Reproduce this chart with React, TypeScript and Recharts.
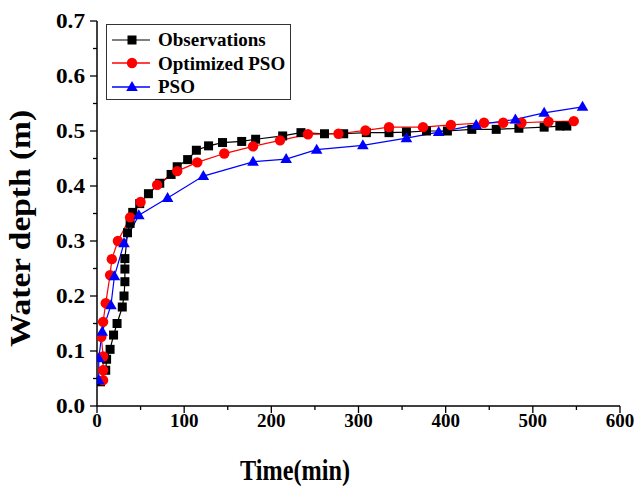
import React from 'react';
import { LineChart, Line, XAxis, YAxis, Legend } from 'recharts';

const FONT = '"Liberation Serif", "Times New Roman", serif';

// Observations
const obsTime = [4, 10, 11, 15, 19, 23, 29, 31, 32, 32, 32, 35, 38, 41, 49, 59, 72, 85, 92, 104, 114, 128, 144, 166, 182, 213, 234, 261, 283, 309, 335, 355, 378, 402, 430, 458, 484, 513, 531, 539];
const obsDepth = [0.044, 0.065, 0.085, 0.103, 0.129, 0.150, 0.180, 0.200, 0.226, 0.249, 0.268, 0.315, 0.332, 0.352, 0.368, 0.386, 0.405, 0.421, 0.435, 0.448, 0.465, 0.473, 0.479, 0.481, 0.485, 0.491, 0.497, 0.495, 0.495, 0.497, 0.497, 0.498, 0.500, 0.500, 0.503, 0.503, 0.505, 0.507, 0.509, 0.509];

// Optimized PSO
const optTime = [7, 7, 7, 5, 7, 10, 15, 17, 24, 38, 50, 69, 92, 115, 146, 179, 210, 242, 277, 308, 335, 374, 406, 444, 466, 487, 518, 547];
const optDepth = [0.047, 0.065, 0.090, 0.126, 0.153, 0.187, 0.238, 0.267, 0.300, 0.343, 0.371, 0.402, 0.427, 0.443, 0.459, 0.472, 0.483, 0.494, 0.495, 0.501, 0.507, 0.507, 0.511, 0.515, 0.515, 0.515, 0.517, 0.518];

// PSO
const psoTime = [2, 2, 6, 16, 20, 31, 48, 81, 122, 179, 217, 252, 305, 355, 392, 435, 480, 513, 557];
const psoDepth = [0.047, 0.087, 0.135, 0.183, 0.236, 0.296, 0.347, 0.378, 0.418, 0.444, 0.449, 0.466, 0.474, 0.487, 0.498, 0.511, 0.521, 0.533, 0.544];

const seriesNames = ['Observations', 'Optimized PSO', 'PSO'];
const seriesColors = ['#000000', '#ff0000', '#0000ff'];
const seriesShapes = ['square', 'circle', 'triangle'];

const xTicks = [0, 50, 100, 150, 200, 250, 300, 350, 400, 450, 500, 550, 600];
const yTicks = [0, 0.05, 0.1, 0.15, 0.2, 0.25, 0.3, 0.35, 0.4, 0.45, 0.5, 0.55, 0.6, 0.65, 0.7];

const xTitle = 'Time(min)';
const yTitle = 'Water depth (m)';

const toData = (t: number[], v: number[]) => t.map((x, i) => ({ t: x, v: v[i] }));
const obsData = toData(obsTime, obsDepth);
const optData = toData(optTime, optDepth);
const psoData = toData(psoTime, psoDepth);

const Marker = ({ shape, cx, cy, color }: { shape: string; cx: number; cy: number; color: string }) => {
  if (shape === 'square') {
    return <rect x={cx - 4.5} y={cy - 4.5} width={9} height={9} fill={color} />;
  }
  if (shape === 'circle') {
    return <circle cx={cx} cy={cy} r={5.2} fill={color} />;
  }
  return (
    <polygon
      points={`${cx},${cy - 6} ${cx - 5.8},${cy + 4} ${cx + 5.8},${cy + 4}`}
      fill={color}
    />
  );
};

const makeDot = (idx: number) => (props: any) => {
  const { cx, cy, index } = props;
  if (cx == null || cy == null) return <g key={`d${idx}-${index}`} />;
  return (
    <g key={`d${idx}-${index}`}>
      <Marker shape={seriesShapes[idx]} cx={cx} cy={cy} color={seriesColors[idx]} />
    </g>
  );
};

const XTick = (props: any) => {
  const { x, y, payload } = props;
  const major = payload.value % 100 === 0;
  return (
    <g>
      <line x1={x} x2={x} y1={y} y2={y + (major ? 7 : 4)} stroke="#000" strokeWidth={1.3} />
      {major && (
        <text x={x} y={y + 20.5} textAnchor="middle" fontFamily={FONT} fontWeight="bold" fontSize={19} fill="#000">
          {payload.value}
        </text>
      )}
    </g>
  );
};

const YTick = (props: any) => {
  const { x, y, payload } = props;
  const major = Math.round(payload.value * 100) % 10 === 0;
  return (
    <g>
      <line x1={x - (major ? 7 : 4)} x2={x} y1={y} y2={y} stroke="#000" strokeWidth={1.3} />
      {major && (
        <text
          x={x - 12}
          y={y}
          dy="0.34em"
          textAnchor="end"
          fontFamily={FONT}
          fontWeight="bold"
          fontSize={20}
          textLength={29}
          lengthAdjust="spacingAndGlyphs"
          fill="#000"
        >
          {payload.value.toFixed(1)}
        </text>
      )}
    </g>
  );
};

const XTitle = (props: any) => {
  const vb = props.viewBox || { x: 97, y: 406, width: 523, height: 80 };
  return (
    <text
      x={vb.x + 198}
      y={vb.y + 74}
      textAnchor="middle"
      fontFamily={FONT}
      fontWeight="bold"
      fontSize={29}
      textLength={110}
      lengthAdjust="spacingAndGlyphs"
      fill="#000"
    >
      {xTitle}
    </text>
  );
};

const YTitle = (props: any) => {
  const vb = props.viewBox || { x: 0, y: 21, width: 97, height: 385 };
  const cy = vb.y + vb.height / 2 + 15;
  return (
    <text
      transform={`translate(30, ${cy}) rotate(-90)`}
      x={0}
      y={0}
      textAnchor="middle"
      fontFamily={FONT}
      fontWeight="bold"
      fontSize={29}
      textLength={237}
      lengthAdjust="spacingAndGlyphs"
      fill="#000"
    >
      {yTitle}
    </text>
  );
};

const LegendBox = (props: any) => {
  const payload = props.payload || [];
  return (
    <div
      style={{
        border: '1px solid #333',
        background: '#fff',
        padding: '3px 5px 0px 5px',
        fontFamily: FONT,
        fontWeight: 'bold',
        fontSize: 19,
        color: '#000',
        whiteSpace: 'nowrap',
        lineHeight: '23.5px',
      }}
    >
      {payload.map((p: any) => {
        const idx = seriesNames.indexOf(p.value);
        const color = seriesColors[idx] || p.color;
        return (
          <div key={p.value} style={{ display: 'flex', alignItems: 'center', height: 23.5 }}>
            <svg width={38} height={14} style={{ display: 'block' }}>
              <line x1={0} x2={38} y1={7} y2={7} stroke={idx === 0 ? '#555' : color} strokeWidth={1.3} />
              <Marker shape={seriesShapes[idx]} cx={20} cy={7} color={color} />
            </svg>
            <span style={{ marginLeft: 8 }}>{p.value}</span>
          </div>
        );
      })}
    </div>
  );
};

export default function App() {
  return (
    <div style={{ position: 'absolute', left: 0, top: 0, width: 636, height: 486, background: '#fff' }}>
      <LineChart width={636} height={486} margin={{ top: 21, right: 16, left: 0, bottom: 0 }}>
        <XAxis
          dataKey="t"
          type="number"
          domain={[0, 600]}
          ticks={xTicks}
          interval={0}
          height={80}
          tickSize={0}
          tickMargin={0}
          tickLine={false}
          tick={<XTick />}
          axisLine={{ stroke: '#000', strokeWidth: 1.5 }}
          allowDataOverflow
          label={(p: any) => <XTitle {...p} />}
        />
        <YAxis
          dataKey="v"
          type="number"
          domain={[0, 0.7]}
          ticks={yTicks}
          interval={0}
          width={97}
          tickSize={0}
          tickMargin={0}
          tickLine={false}
          tick={<YTick />}
          axisLine={{ stroke: '#000', strokeWidth: 1.5 }}
          allowDataOverflow
          label={(p: any) => <YTitle {...p} />}
        />
        <Legend
          layout="vertical"
          align="center"
          verticalAlign="middle"
          content={<LegendBox />}
          wrapperStyle={{ left: 106, top: 24, width: 'auto', height: 'auto' }}
        />
        <Line
          data={obsData}
          dataKey="v"
          name={seriesNames[0]}
          stroke={seriesColors[0]}
          strokeWidth={1.2}
          dot={makeDot(0)}
          activeDot={false}
          isAnimationActive={false}
        />
        <Line
          data={optData}
          dataKey="v"
          name={seriesNames[1]}
          stroke={seriesColors[1]}
          strokeWidth={1.2}
          dot={makeDot(1)}
          activeDot={false}
          isAnimationActive={false}
        />
        <Line
          data={psoData}
          dataKey="v"
          name={seriesNames[2]}
          stroke={seriesColors[2]}
          strokeWidth={1.2}
          dot={makeDot(2)}
          activeDot={false}
          isAnimationActive={false}
        />
      </LineChart>
    </div>
  );
}
